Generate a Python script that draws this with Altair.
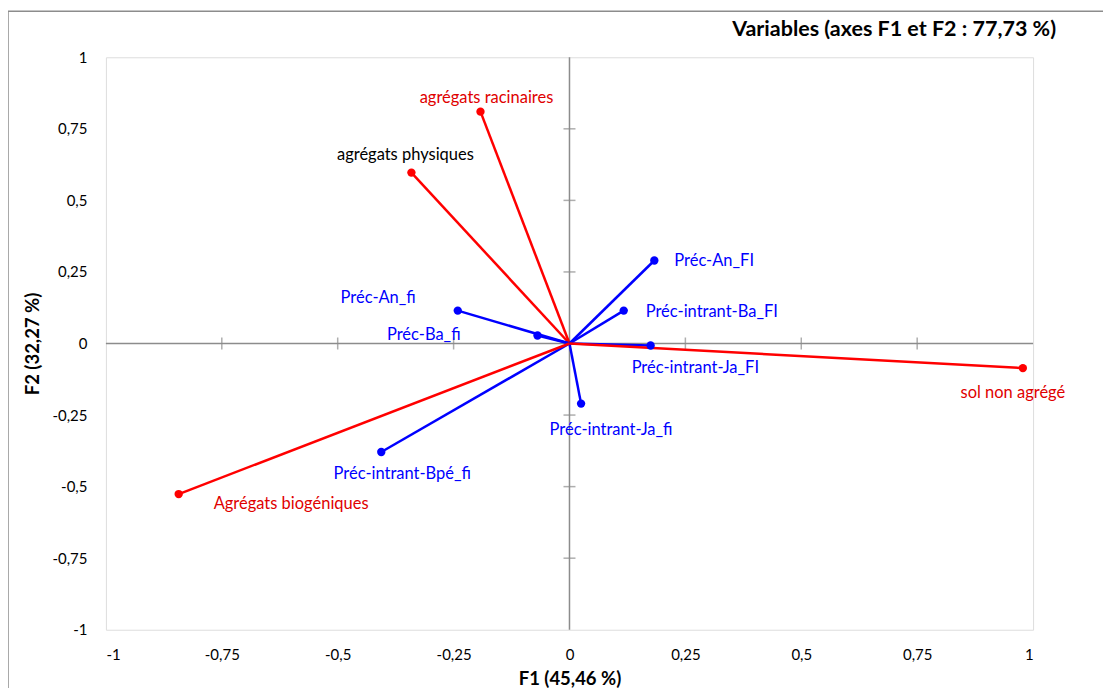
import altair as alt
import pandas as pd

# ---- data ----
names = [
    "agrégats racinaires", "agrégats physiques", "Préc-An_fi", "Préc-Ba_fi",
    "Préc-An_FI", "Préc-intrant-Ba_FI", "Préc-intrant-Ja_FI", "Préc-intrant-Ja_fi",
    "sol non agrégé", "Préc-intrant-Bpé_fi", "Agrégats biogéniques",
]
f1 = [-0.192, -0.341, -0.241, -0.069, 0.183, 0.117, 0.175, 0.025, 0.978, -0.406, -0.843]
f2 = [0.810, 0.597, 0.115, 0.028, 0.290, 0.115, -0.007, -0.210, -0.086, -0.379, -0.526]
group = ["active", "active", "supp", "supp", "supp", "supp", "supp", "supp",
         "active", "supp", "active"]
label_color = ["#E00000", "#000000", "#0000FF", "#0000FF", "#0000FF", "#0000FF",
               "#0000FF", "#0000FF", "#E00000", "#0000FF", "#E00000"]
tick_values = [-1, -0.75, -0.5, -0.25, 0, 0.25, 0.5, 0.75, 1]
inner_ticks = [-0.75, -0.5, -0.25, 0.25, 0.5, 0.75]
title_text = "Variables (axes F1 et F2 : 77,73 %)"

df = pd.DataFrame({"name": names, "f1": f1, "f2": f2, "group": group,
                   "lcolor": label_color})

# label placement (style): align, dx, dy
placement = {
    "agrégats racinaires": ("center", 6, -14),
    "agrégats physiques": ("center", -6, -18),
    "Préc-An_fi": ("right", -42, -13),
    "Préc-Ba_fi": ("right", -77, 0),
    "Préc-An_FI": ("left", 20, 1),
    "Préc-intrant-Ba_FI": ("left", 22, 1),
    "Préc-intrant-Ja_FI": ("left", -19, 23),
    "Préc-intrant-Ja_fi": ("center", 30, 26),
    "sol non agrégé": ("center", -10, 25),
    "Préc-intrant-Bpé_fi": ("center", 21, 22),
    "Agrégats biogéniques": ("left", 35, 10),
}

FONT = "Lato"
GRAY = "#8C8C8C"
W, H = 928, 573

xs = alt.Scale(domain=[-1, 1], nice=False, zero=False)
ys = alt.Scale(domain=[-1, 1], nice=False, zero=False)
fmt = ("abs(datum.value) < 1e-9 ? '0' : (datum.value < 0 ? '-' : '') + "
       "replace(format(abs(datum.value), ''), '.', ',')")

color_scale = alt.Scale(domain=["active", "supp"], range=["#FF0000", "#0000FF"])

base = alt.Chart(df)
one = pd.DataFrame({"a": [0]})

border = alt.Chart(one).mark_rect(
    fill=None, stroke=GRAY, strokeWidth=1.5
).encode(x=alt.value(-98), x2=alt.value(W + 200), y=alt.value(-46), y2=alt.value(H + 200))

title = alt.Chart(pd.DataFrame({"t": [title_text]})).mark_text(
    align="right", baseline="middle", font=FONT, fontSize=21.5, fontWeight="bold", color="#000"
).encode(x=alt.value(W + 23), y=alt.value(-27), text="t:N")

zero_df = pd.DataFrame({"z": [0]})
hline = alt.Chart(zero_df).mark_rule(color=GRAY, strokeWidth=1.5).encode(
    y=alt.Y("z:Q", scale=ys))
vline = alt.Chart(zero_df).mark_rule(color=GRAY, strokeWidth=1.5).encode(
    x=alt.X("z:Q", scale=xs))

tk = pd.DataFrame({"t": inner_ticks, "z": [0] * len(inner_ticks)})
xticks = alt.Chart(tk).mark_tick(orient="vertical", size=12, thickness=1.5, color=GRAY).encode(
    x=alt.X("t:Q", scale=xs), y=alt.Y("z:Q", scale=ys))
yticks = alt.Chart(tk).mark_tick(orient="horizontal", size=12, thickness=1.5, color=GRAY).encode(
    y=alt.Y("t:Q", scale=ys), x=alt.X("z:Q", scale=xs))

vectors = base.transform_calculate(o="0").mark_rule(strokeWidth=2.5).encode(
    x=alt.X("o:Q", scale=xs,
            axis=alt.Axis(title="F1 (45,46 %)", values=tick_values, labelExpr=fmt,
                          ticks=False, domain=False, grid=False, labelPadding=18,
                          labelFontSize=15, labelFont=FONT, labelColor="#000",
                          titleFont=FONT, titleFontSize=18.5, titleFontWeight="bold",
                          titleColor="#000", titlePadding=7)),
    y=alt.Y("o:Q", scale=ys,
            axis=alt.Axis(title="F2 (32,27 %)", values=tick_values, labelExpr=fmt,
                          ticks=False, domain=False, grid=False, labelPadding=19,
                          labelFontSize=15, labelFont=FONT, labelColor="#000",
                          titleFont=FONT, titleFontSize=18.5, titleFontWeight="bold",
                          titleColor="#000", titlePadding=9)),
    x2="f1:Q", y2="f2:Q",
    color=alt.Color("group:N", scale=color_scale, legend=None),
)

points = base.mark_circle(size=70, opacity=1).encode(
    x=alt.X("f1:Q", scale=xs), y=alt.Y("f2:Q", scale=ys),
    color=alt.Color("group:N", scale=color_scale, legend=None),
)

labels = []
for nm, (al, dx, dy) in placement.items():
    labels.append(
        base.transform_filter(alt.datum.name == nm).mark_text(
            align=al, baseline="middle", dx=dx, dy=dy, font=FONT, fontSize=16.5
        ).encode(
            x=alt.X("f1:Q", scale=xs), y=alt.Y("f2:Q", scale=ys),
            text="name:N", color=alt.Color("lcolor:N", scale=None),
        )
    )

chart = alt.layer(border, title, hline, vline, xticks, yticks, vectors, points, *labels).properties(
    width=W, height=H,
    autosize=alt.AutoSizeParams(type="none"),
    padding={"left": 98, "top": 49, "right": 70, "bottom": 60},
).configure_view(stroke=GRAY, strokeWidth=2).configure(background="white")

chart.save("out.html", embed_options={"renderer": "svg", "actions": False})
